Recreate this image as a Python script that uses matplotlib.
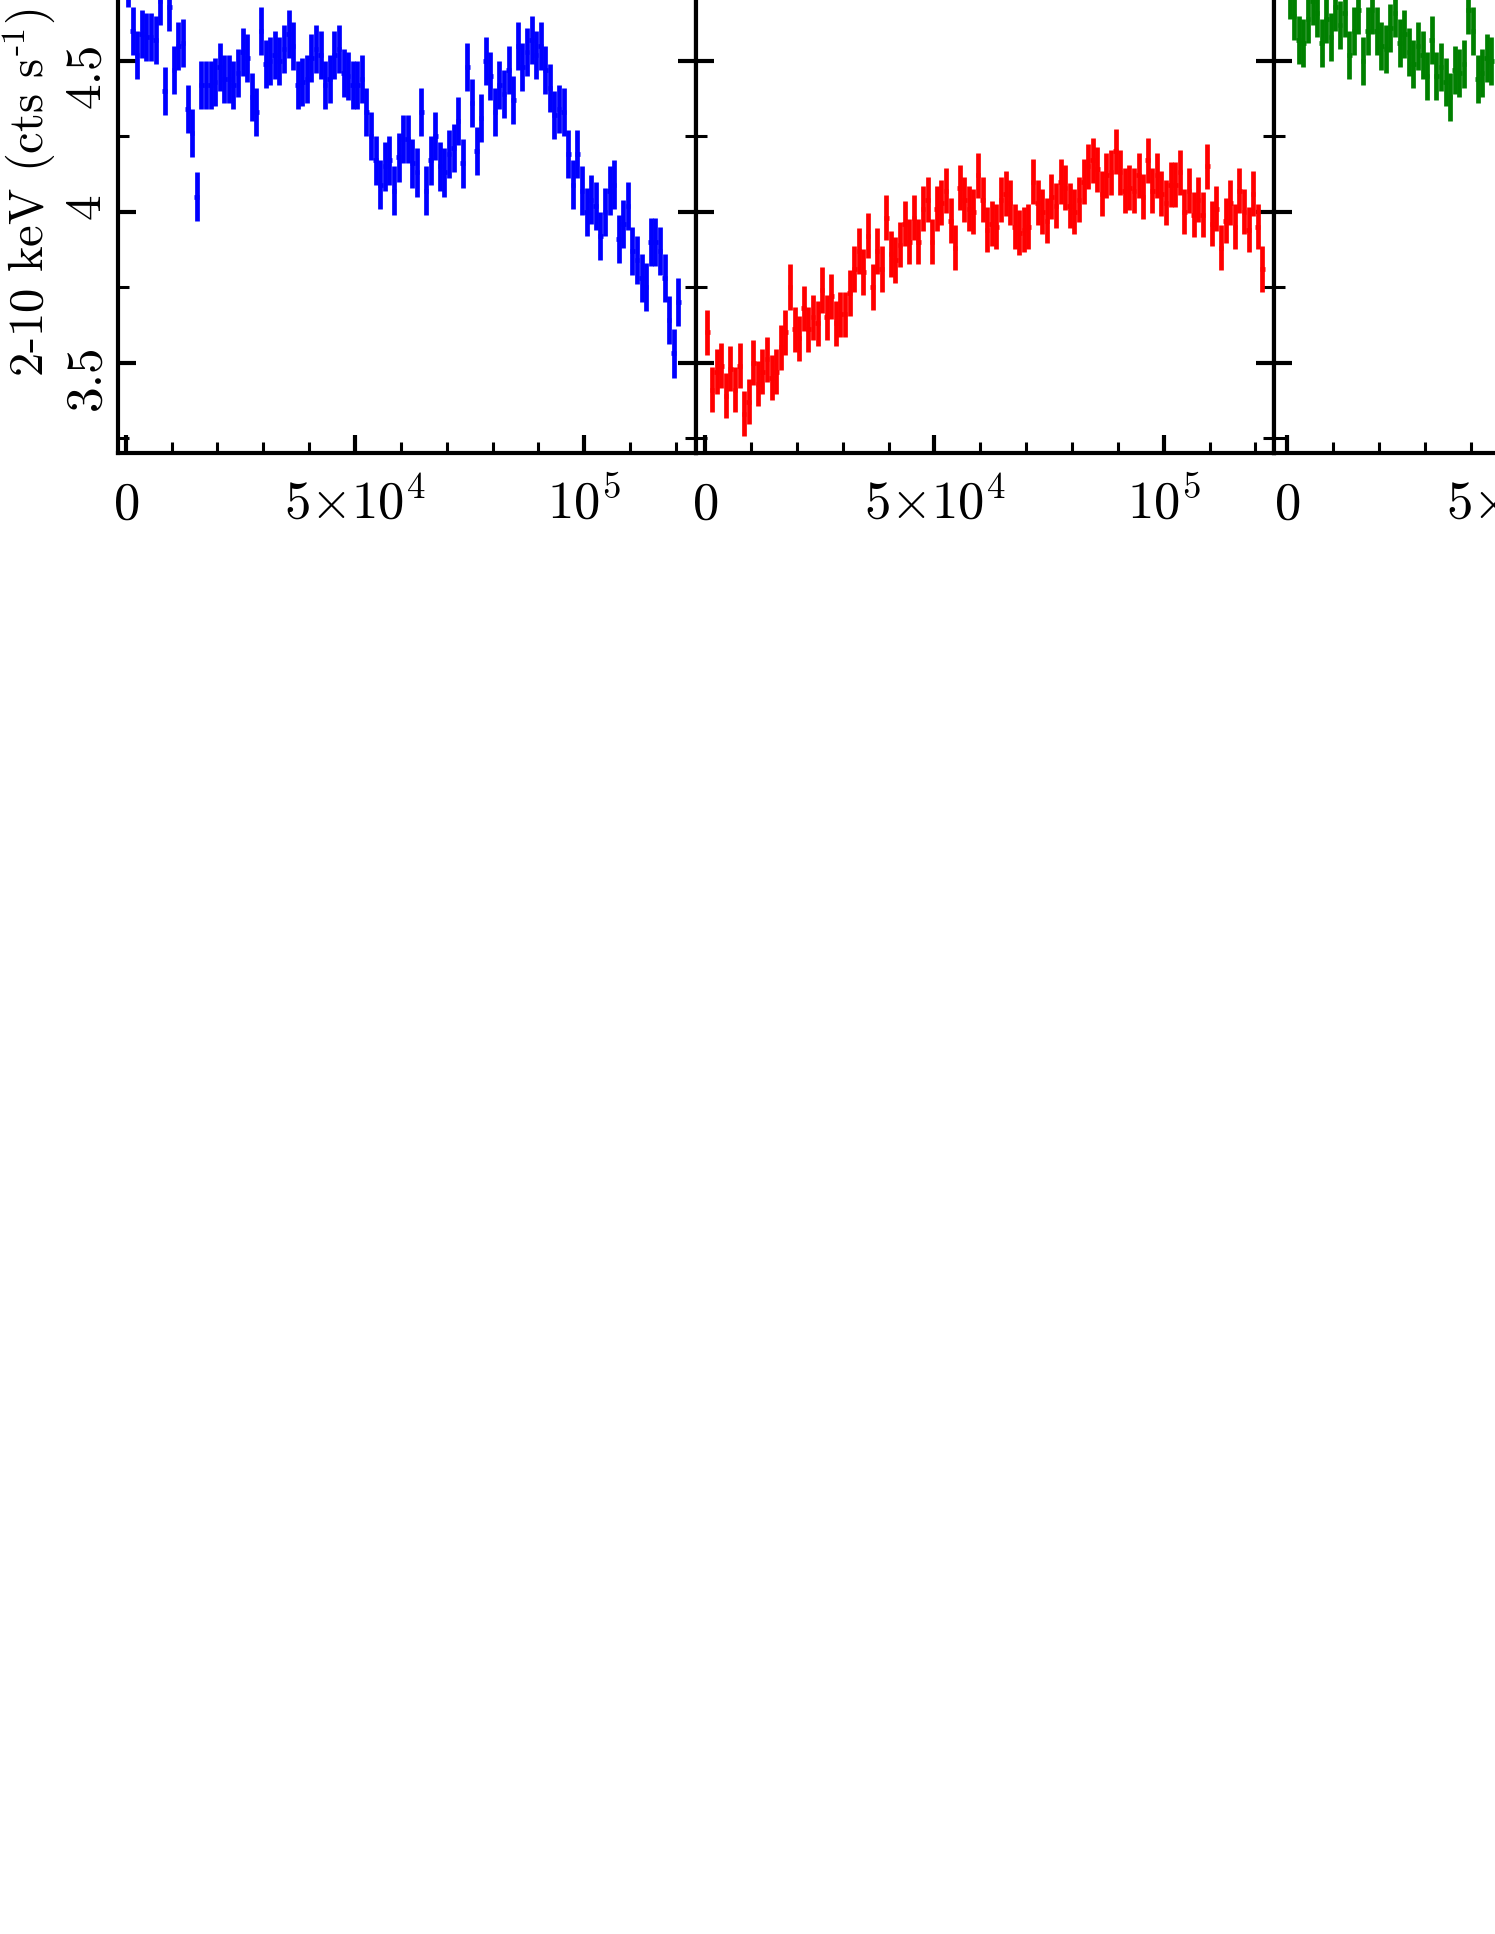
import numpy as np
import matplotlib
matplotlib.use('Agg')
import matplotlib.pyplot as plt
from matplotlib.ticker import FixedLocator, FixedFormatter, MultipleLocator

# serif font like the original plot (Computer Modern)
plt.rcParams['font.family'] = 'serif'
plt.rcParams['font.serif'] = ['cmr10', 'DejaVu Serif']
plt.rcParams['mathtext.fontset'] = 'cm'
plt.rcParams['axes.unicode_minus'] = False

# 2-10 keV count rates, 1000 s bins
bin_size = 1000.0
rate_obs1 = [4.76, 4.60, 4.52, 4.59, 4.58, 4.58, 4.57, 4.70, 4.40, 4.68,
             4.47, 4.55, 4.56, 4.34, 4.26, 4.05, 4.42, 4.42, 4.42, 4.43,
             4.48, 4.44, 4.44, 4.42, 4.46, 4.53, 4.51, 4.38, 4.33, 4.60,
             4.49, 4.50, 4.52, 4.50, 4.54, 4.59, 4.55, 4.42, 4.43, 4.44,
             4.51, 4.54, 4.52, 4.42, 4.44, 4.52, 4.54, 4.46, 4.45, 4.42,
             4.42, 4.44, 4.33, 4.25, 4.17, 4.09, 4.15, 4.17, 4.07, 4.18,
             4.24, 4.24, 4.16, 4.13, 4.33, 4.07, 4.17, 4.25, 4.15, 4.13,
             4.19, 4.21, 4.30, 4.16, 4.48, 4.36, 4.20, 4.31, 4.50, 4.45,
             4.33, 4.42, 4.39, 4.47, 4.37, 4.55, 4.48, 4.53, 4.57, 4.52,
             4.55, 4.47, 4.41, 4.32, 4.34, 4.33, 4.19, 4.09, 4.19, 4.07,
             4.00, 4.04, 4.02, 3.92, 4.00, 4.07, 4.09, 3.91, 3.96, 4.02,
             3.87, 3.84, 3.78, 3.75, 3.90, 3.90, 3.87, 3.78, 3.64, 3.53,
             3.70]
rate_obs2 = [3.60, 3.41, 3.47, 3.49, 3.39, 3.48, 3.41, 3.49, 3.33, 3.37,
             3.50, 3.43, 3.47, 3.51, 3.45, 3.47, 3.55, 3.60, 3.75, 3.61,
             3.58, 3.68, 3.61, 3.65, 3.63, 3.74, 3.65, 3.72, 3.63, 3.66,
             3.66, 3.73, 3.81, 3.87, 3.80, 3.92, 3.75, 3.87, 3.81, 3.98,
             3.86, 3.84, 3.89, 3.96, 3.90, 3.98, 3.90, 4.01, 4.04, 3.90,
             4.01, 4.03, 4.07, 3.97, 3.88, 4.08, 4.04, 4.01, 4.00, 4.12,
             4.04, 3.94, 3.96, 3.95, 4.04, 4.06, 4.03, 3.95, 3.93, 3.94,
             3.95, 4.10, 4.03, 4.00, 3.97, 4.05, 4.02, 4.10, 4.08, 4.02,
             4.00, 4.04, 4.10, 4.15, 4.17, 4.14, 4.06, 4.12, 4.13, 4.20,
             4.13, 4.07, 4.08, 4.07, 4.12, 4.05, 4.17, 4.07, 4.12, 4.06,
             4.03, 4.09, 4.09, 4.13, 4.00, 4.07, 3.99, 4.04, 3.99, 4.15,
             3.96, 4.01, 3.88, 3.97, 4.03, 3.95, 4.07, 4.00, 3.94, 4.06,
             3.95, 3.81]
rate_obs3 = [4.72, 4.65, 4.57, 4.56, 4.64, 4.70, 4.66, 4.56, 4.64, 4.58,
             4.68, 4.62, 4.66, 4.52, 4.60, 4.67, 4.50, 4.60, 4.67, 4.60,
             4.55, 4.54, 4.61, 4.66, 4.56, 4.59, 4.53, 4.49, 4.55, 4.52,
             4.45, 4.57, 4.45, 4.48, 4.43, 4.38, 4.47, 4.46, 4.49, 4.67,
             4.60, 4.44, 4.46, 4.51, 4.50]
rate_err = [0.08, 0.075, 0.08]
colors = ['blue', 'red', 'green']

x_ticks = [0, 5e4, 1e5]
x_tick_labels = [r'$0$', r'$5{\times}10^{4}$', r'$10^{5}$']
y_ticks = [3.5, 4.0, 4.5]
y_tick_labels = ['3.5', '4', '4.5']

# layout in pixels (figure is 1495 x 1934)
W, H = 1495.0, 1934.0
lefts = [118, 696, 1274]
pw, ph = 578, 543
bottom = 453
x_start = [-1680, -2000, -2900]
x_span = 126040
y_lim = (3.2, 5.0)

fig = plt.figure(figsize=(W / 100, H / 100), dpi=100)

for i, rates in enumerate([rate_obs1, rate_obs2, rate_obs3]):
    ax = fig.add_axes([lefts[i] / W, (H - bottom) / H, pw / W, ph / H])
    t = (np.arange(len(rates)) + 0.5) * bin_size
    ax.errorbar(t, rates, xerr=bin_size / 2, yerr=rate_err[i], fmt='none',
                ecolor=colors[i], elinewidth=3.4, capsize=0)

    ax.set_xlim(x_start[i], x_start[i] + x_span)
    ax.set_ylim(*y_lim)

    ax.xaxis.set_major_locator(FixedLocator(x_ticks))
    ax.xaxis.set_major_formatter(FixedFormatter(x_tick_labels))
    ax.xaxis.set_minor_locator(MultipleLocator(1e4))
    ax.yaxis.set_major_locator(FixedLocator(y_ticks))
    ax.yaxis.set_major_formatter(FixedFormatter(y_tick_labels))
    ax.yaxis.set_minor_locator(MultipleLocator(0.25))

    for sp in ax.spines.values():
        sp.set_linewidth(3)
    ax.tick_params(which='both', direction='in', top=True, right=True)
    ax.tick_params(which='major', length=13, width=3)
    ax.tick_params(which='minor', length=8, width=2.2)
    ax.tick_params(axis='x', labelsize=38, pad=47)
    ax.tick_params(axis='y', labelsize=37, labelrotation=90, pad=6)
    for lab in ax.get_xticklabels():
        lab.set_verticalalignment('baseline')

    if i == 0:
        ax.set_ylabel(r'2-10 keV (cts s$^{\text{-}1}$)', fontsize=35)
        ax.yaxis.set_label_coords(-0.1055, 0.48)
    else:
        ax.tick_params(axis='y', labelleft=False)

fig.savefig('out.png', dpi=100)
